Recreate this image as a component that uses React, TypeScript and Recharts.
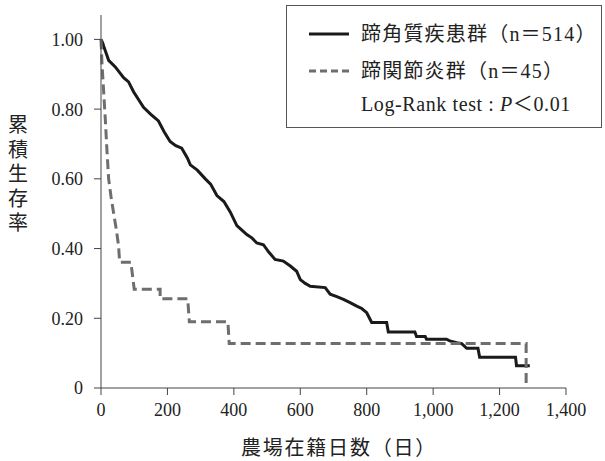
import { Line, LineChart, XAxis, YAxis } from "recharts";

// 蹄角質疾患群 (n=514) — Kaplan-Meier readings
const hoofDays = [
  0, 5, 10, 18, 23, 43, 68, 83, 98, 128, 150, 173, 190, 208, 225, 243, 260, 269, 290, 314, 330, 349, 370,
  389, 409, 425, 439, 455, 469, 489, 505, 524, 549, 570, 589, 600, 615, 630, 675, 690, 710, 730, 750, 770,
  785, 800, 815, 860, 865, 945, 950, 976, 980, 1040, 1050, 1071, 1086, 1101, 1135, 1140, 1248, 1251, 1291
];
const hoofSurvival = [
  1.0, 0.99, 0.975, 0.954, 0.94, 0.921, 0.89, 0.878, 0.85, 0.805, 0.785, 0.766, 0.735, 0.707, 0.695, 0.688,
  0.66, 0.64, 0.625, 0.6, 0.585, 0.552, 0.535, 0.505, 0.466, 0.452, 0.44, 0.43, 0.416, 0.411, 0.39, 0.369,
  0.364, 0.35, 0.335, 0.311, 0.3, 0.292, 0.288, 0.269, 0.262, 0.254, 0.245, 0.235, 0.228, 0.216, 0.188,
  0.188, 0.161, 0.161, 0.148, 0.148, 0.14, 0.14, 0.135, 0.13, 0.127, 0.114, 0.114, 0.088, 0.088, 0.064, 0.064
];

// 蹄関節炎群 (n=45)
const jointDays = [
  0, 3, 8, 13, 18, 23, 30, 38, 46, 53, 56, 90, 100, 178, 178, 261, 266, 382, 386, 1280, 1280
];
const jointSurvival = [
  1.0, 0.93, 0.85, 0.77, 0.68, 0.6, 0.55, 0.502, 0.455, 0.407, 0.361, 0.361, 0.283, 0.283, 0.256, 0.256,
  0.19, 0.19, 0.128, 0.128, 0
];

const xTicks = [0, 200, 400, 600, 800, 1000, 1200, 1400];
const yTicks = [0, 0.2, 0.4, 0.6, 0.8, 1.0];
const xTitle = "農場在籍日数（日）";
const yTitle = "累積生存率";
const hoofLabel = "蹄角質疾患群（n＝514）";
const jointLabel = "蹄関節炎群（n＝45）";

const hoofData = hoofDays.map((day, i) => ({ day, surv: hoofSurvival[i] }));
const jointData = jointDays.map((day, i) => ({ day, surv: jointSurvival[i] }));

const FONT = '"Liberation Serif", Tinos, "Times New Roman", Times, "DejaVu Serif", serif, "Noto Sans CJK JP"';
const INK = "#222";

function YTitle() {
  return (
    <text fill={INK} fontSize={20} textAnchor="middle" fontFamily={FONT}>
      {yTitle.split("").map((c, i) => (
        <tspan key={i} x={18} y={132 + i * 24.5}>
          {c}
        </tspan>
      ))}
    </text>
  );
}

function XTitle() {
  return (
    <text x={339} y={455} fill={INK} fontSize={20} textAnchor="middle" fontFamily={FONT} letterSpacing={1.8}>
      {xTitle}
    </text>
  );
}

function LegendBox() {
  const row = { position: "absolute" as const, left: 74, lineHeight: "24px", whiteSpace: "nowrap" as const };
  return (
    <div
      style={{
        position: "absolute",
        left: 286,
        top: 5,
        width: 316,
        height: 123,
        boxSizing: "border-box",
        border: "1px solid #555",
        background: "#fff",
        fontSize: 20,
        color: INK
      }}
    >
      <svg width={80} height={80} style={{ position: "absolute", left: 0, top: 0 }}>
        <line x1={22} x2={62} y1={28} y2={28} stroke="#1a1a1a" strokeWidth={3} />
        <line x1={22} x2={62} y1={65} y2={65} stroke="#6e6e6e" strokeWidth={3} strokeDasharray="7 4" />
      </svg>
      <div style={{ ...row, top: 16, letterSpacing: 1.2 }}>{hoofLabel}</div>
      <div style={{ ...row, top: 53, letterSpacing: 1.2 }}>{jointLabel}</div>
      <div style={{ ...row, top: 86, letterSpacing: 0.6 }}>
        Log-Rank test : <i>P</i>＜0.01
      </div>
    </div>
  );
}

export default function App() {
  return (
    <div style={{ position: "absolute", left: 0, top: 0, width: 605, height: 461, fontFamily: FONT, background: "#fff" }}>
      <LineChart width={605} height={461} margin={{ top: 15, right: 39, bottom: 0, left: 0 }} style={{ fontFamily: FONT }}>
        <XAxis
          dataKey="day"
          type="number"
          domain={[0, 1400]}
          ticks={xTicks}
          tickFormatter={(v) => Number(v).toLocaleString("en-US")}
          tickSize={7}
          tickMargin={8}
          height={73}
          stroke="#444"
          tick={{ fill: INK, fontSize: 18, fontFamily: FONT }}
          label={{ content: () => <XTitle /> }}
          allowDuplicatedCategory={false}
        />
        <YAxis
          dataKey="surv"
          type="number"
          domain={[0, 1.07]}
          ticks={yTicks}
          allowDataOverflow
          tickFormatter={(v) => (v === 0 ? "0" : Number(v).toFixed(2))}
          tickSize={7}
          tickMargin={11}
          width={101}
          stroke="#444"
          tick={{ fill: INK, fontSize: 18, fontFamily: FONT }}
          label={{ content: () => <YTitle /> }}
        />
        <Line
          data={hoofData}
          dataKey="surv"
          type="linear"
          stroke="#1a1a1a"
          strokeWidth={3}
          dot={false}
          isAnimationActive={false}
        />
        <Line
          data={jointData}
          dataKey="surv"
          type="linear"
          stroke="#6e6e6e"
          strokeWidth={3}
          strokeDasharray="10 5"
          dot={false}
          isAnimationActive={false}
        />
      </LineChart>
      <LegendBox />
    </div>
  );
}
